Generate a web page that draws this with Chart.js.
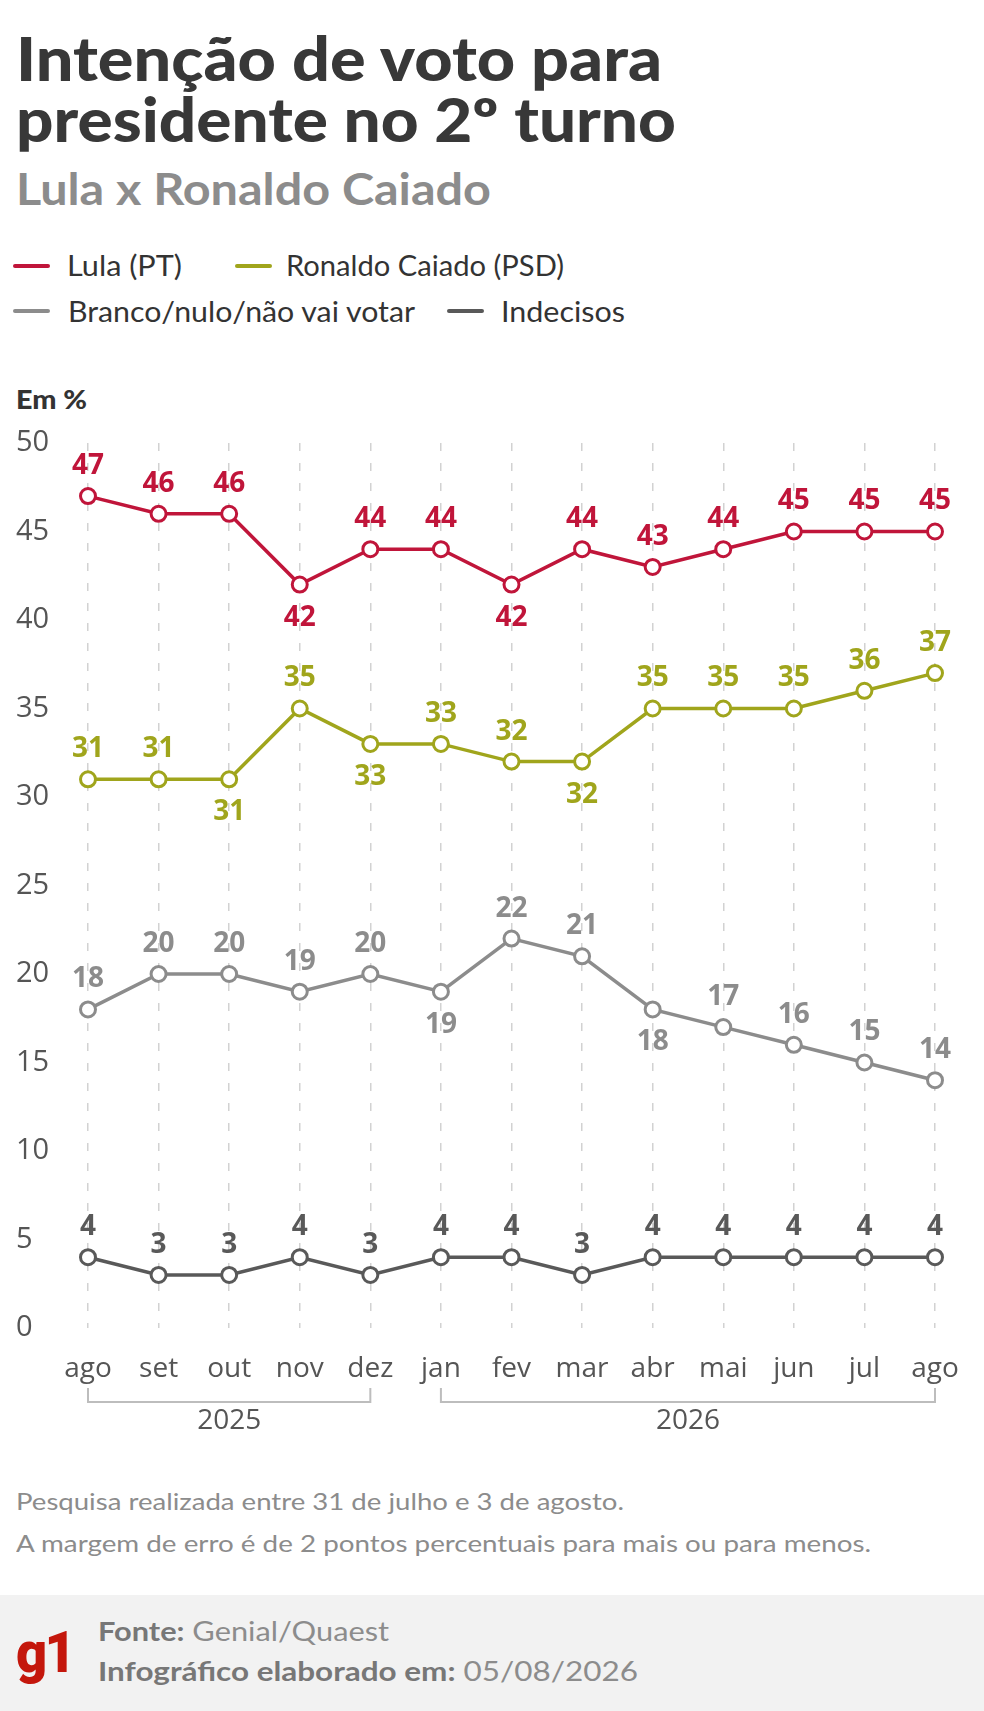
<!DOCTYPE html>
<html>
<head>
<meta charset="utf-8">
<script src="https://cdn.jsdelivr.net/npm/chart.js@4.4.1/dist/chart.umd.min.js"></script>
<style>
  html, body { margin:0; padding:0; background:#fff; }
  body { width:984px; height:1711px; position:relative; overflow:hidden; font-family:'Lato', sans-serif; }
  .t { position:absolute; white-space:nowrap; line-height:1.2; transform-origin:0 0; display:inline-block; }
  .lg { position:absolute; height:4px; width:37px; border-radius:2px; }
  #band { position:absolute; left:0; top:1595px; width:984px; height:116px; background:#f2f2f2; }
  #chart { position:absolute; left:0; top:400px; }
</style>
</head>
<body>
<div class="t" data-w="646" style="left:16px; top:22px; font-size:60px; font-weight:900; color:#383838;">Intenção de voto para</div>
<div class="t" data-w="660" style="left:16px; top:83px; font-size:60px; font-weight:900; color:#383838;">presidente no 2º turno</div>
<div class="t" data-w="475" style="left:16px; top:163px; font-size:43px; font-weight:700; color:#8c8c8c;">Lula x Ronaldo Caiado</div>

<div class="lg" style="left:13px; top:264px; background:#c0153a;"></div>
<div class="t" data-w="115" style="left:67px; top:248px; font-size:29px; color:#333;">Lula (PT)</div>
<div class="lg" style="left:235px; top:264px; background:#a0a51c;"></div>
<div class="t" data-w="278" style="left:286px; top:248px; font-size:29px; color:#333;">Ronaldo Caiado (PSD)</div>
<div class="lg" style="left:13px; top:309px; background:#8c8c8c;"></div>
<div class="t" data-w="347" style="left:68px; top:294px; font-size:29px; color:#333;">Branco/nulo/não vai votar</div>
<div class="lg" style="left:447px; top:309px; background:#595959;"></div>
<div class="t" data-w="124" style="left:501px; top:294px; font-size:29px; color:#333;">Indecisos</div>

<div class="t" data-w="71" style="left:16px; top:384px; font-size:26px; font-weight:900; color:#333;">Em %</div>

<canvas id="chart" width="984" height="1050" style="width:984px;height:1050px;"></canvas>

<div class="t" data-w="608" style="left:16px; top:1487px; font-size:24px; color:#8c8c8c;">Pesquisa realizada entre 31 de julho e 3 de agosto.</div>
<div class="t" data-w="855" style="left:16px; top:1529px; font-size:24px; color:#8c8c8c;">A margem de erro é de 2 pontos percentuais para mais ou para menos.</div>

<div id="band"></div>
<div class="t" data-w="57" style="left:16px; top:1618px; font-size:58px; font-weight:900; font-family:Roboto, sans-serif; color:#c4170c; letter-spacing:-3px;">g1</div>
<div class="t" data-w="291" style="left:98px; top:1616px; font-size:26px; color:#8c8c8c;"><b style="font-weight:700;color:#777;">Fonte:</b> Genial/Quaest</div>
<div class="t" data-w="540" style="left:98px; top:1656px; font-size:26px; color:#8c8c8c;"><b style="font-weight:700;color:#777;">Infográfico elaborado em:</b> 05/08/2026</div>

<script>
// ---- data ----
const months = ['ago','set','out','nov','dez','jan','fev','mar','abr','mai','jun','jul','ago'];
const lula = [47,46,46,42,44,44,42,44,43,44,45,45,45];
const caiado = [31,31,31,35,33,33,32,32,35,35,35,36,37];
const branco = [18,20,20,19,20,19,22,21,18,17,16,15,14];
const indecisos = [4,3,3,4,3,4,4,3,4,4,4,4,4];
const yTicks = [0,5,10,15,20,25,30,35,40,45,50];
const years = ['2025','2026'];
const yearStart = [0,5];
const yearEnd = [4,12];
// indices whose value label sits below the point
const lulaBelow = [3,6];
const caiadoBelow = [2,4,7];
const brancoBelow = [5,8];
const indecisosBelow = [];

const C_LULA = '#c0153a', C_CAIADO = '#a0a51c', C_BRANCO = '#8c8c8c', C_IND = '#595959';

function ds(label, data, color, below) {
  return {
    label, data, borderColor: color, backgroundColor: '#fff',
    borderWidth: 3.5, pointRadius: 7.5, pointHoverRadius: 7.5,
    pointBorderWidth: 3, pointBackgroundColor: '#fff', pointBorderColor: color,
    tension: 0, clip: false, below
  };
}

const valueLabels = {
  id: 'valueLabels',
  afterDatasetsDraw(chart) {
    const ctx = chart.ctx;
    ctx.save();
    ctx.font = '700 28px "Open Sans", sans-serif';
    ctx.textAlign = 'center';
    ctx.textBaseline = 'middle';
    chart.data.datasets.forEach((d, di) => {
      const meta = chart.getDatasetMeta(di);
      meta.data.forEach((pt, i) => {
        const below = d.below.includes(i);
        ctx.fillStyle = d.borderColor;
        ctx.fillText(String(d.data[i]), pt.x, below ? pt.y + 33 : pt.y - 30);
      });
    });
    ctx.restore();
  }
};

const yearBrackets = {
  id: 'yearBrackets',
  afterDraw(chart) {
    const ctx = chart.ctx, xs = chart.scales.x, b = chart.chartArea.bottom;
    ctx.save();
    ctx.strokeStyle = '#bdbdbd';
    ctx.lineWidth = 2;
    ctx.font = '400 28px "Open Sans", sans-serif';
    ctx.fillStyle = '#555';
    ctx.textAlign = 'center';
    ctx.textBaseline = 'middle';
    years.forEach((y, k) => {
      const x0 = xs.getPixelForValue(yearStart[k]);
      const x1 = xs.getPixelForValue(yearEnd[k]);
      ctx.beginPath();
      ctx.moveTo(x0, b + 60);
      ctx.lineTo(x0, b + 74);
      ctx.lineTo(x1, b + 74);
      ctx.lineTo(x1, b + 60);
      ctx.stroke();
      ctx.fillText(y, (x0 + x1) / 2, b + 93);
    });
    ctx.restore();
  }
};

new Chart(document.getElementById('chart'), {
  type: 'line',
  data: {
    labels: months,
    datasets: [
      ds('Lula (PT)', lula, C_LULA, lulaBelow),
      ds('Ronaldo Caiado (PSD)', caiado, C_CAIADO, caiadoBelow),
      ds('Branco/nulo/não vai votar', branco, C_BRANCO, brancoBelow),
      ds('Indecisos', indecisos, C_IND, indecisosBelow)
    ]
  },
  options: {
    responsive: false,
    animation: false,
    events: [],
    layout: { padding: { top: 43, left: 16, right: 49, bottom: 0 } },
    plugins: { legend: { display: false }, tooltip: { enabled: false } },
    scales: {
      x: {
        type: 'category',
        offset: false,
        grid: { display: true, color: '#d2d2d2', lineWidth: 1.5, drawTicks: false },
        border: { display: false, dash: [8, 12] },
        ticks: { autoSkip: false, maxRotation: 0, padding: 24, color: '#555',
                 font: { family: '"Open Sans", sans-serif', size: 28 } },
        afterFit(s) { s.height = 122; }
      },
      y: {
        min: 0, max: 50,
        afterBuildTicks(s) { s.ticks = yTicks.map(v => ({ value: v })); },
        grid: { display: false, drawTicks: false },
        border: { display: false },
        ticks: { crossAlign: 'far', padding: 0, color: '#555',
                 font: { family: '"Open Sans", sans-serif', size: 29 } },
        afterFit(s) { s.width = 72; }
      }
    }
  },
  plugins: [valueLabels, yearBrackets]
});

function fit() {
  document.querySelectorAll('[data-w]').forEach(el => {
    el.style.transform = 'none';
    const w = el.getBoundingClientRect().width;
    const target = parseFloat(el.dataset.w);
    if (w > 0) el.style.transform = 'scaleX(' + (target / w) + ')';
  });
}
fit();
if (document.fonts && document.fonts.ready) document.fonts.ready.then(fit);
</script>
</body>
</html>
